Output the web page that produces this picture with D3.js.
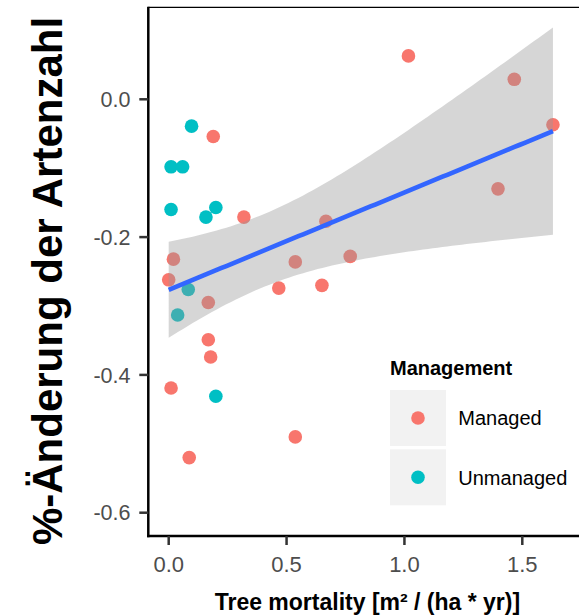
<!DOCTYPE html>
<html>
<head>
<meta charset="utf-8">
<script src="https://cdn.jsdelivr.net/npm/d3@7/dist/d3.min.js"></script>
<style>
  html, body { margin: 0; padding: 0; background: #fff; }
  svg { display: block; font-family: "Liberation Sans", Arial, sans-serif; }
</style>
</head>
<body>
<svg id="chart" width="579" height="615"></svg>
<script>
// ---- data ----
const managedX = [0.189, 0.319, 0.667, 0.020, 0.537, 0.770, 0.000, 0.467, 0.650, 0.168,
                  0.168, 0.178, 0.010, 0.537, 0.087, 1.017, 1.466, 1.630, 1.397];
const managedY = [-0.054, -0.171, -0.177, -0.232, -0.236, -0.228, -0.262, -0.274, -0.270, -0.295,
                  -0.349, -0.374, -0.419, -0.490, -0.520, 0.063, 0.029, -0.037, -0.130];
const unmanagedX = [0.097, 0.010, 0.059, 0.010, 0.158, 0.200, 0.083, 0.038, 0.200];
const unmanagedY = [-0.039, -0.098, -0.098, -0.160, -0.171, -0.157, -0.276, -0.313, -0.431];
const groups = ["Managed", "Unmanaged"];
const groupColors = ["#F8766D", "#00BFC4"];
const xTicks = [0, 0.5, 1.0, 1.5];
const xTickLabels = ["0.0", "0.5", "1.0", "1.5"];
const yTicks = [0, -0.2, -0.4, -0.6];
const yTickLabels = ["0.0", "-0.2", "-0.4", "-0.6"];
const xTitle = "Tree mortality [m\u00B2 / (ha * yr)]";
const yTitle = "%-\u00C4nderung der Artenzahl";
const legendTitle = "Management";
const tCrit = 2.0555; // t quantile 0.975, df = 26

// ---- layout ----
const svg = d3.select("#chart");
const panel = { left: 148.3, top: 7.3, right: 579, bottom: 536 };
const x = d3.scaleLinear().domain([0, 1.5]).range([168.7, 522.3]);
const y = d3.scaleLinear().domain([0, -0.6]).range([99.3, 512.7]);

const points = [];
managedX.forEach((v, i) => points.push({ x: v, y: managedY[i], g: 0 }));
unmanagedX.forEach((v, i) => points.push({ x: v, y: unmanagedY[i], g: 1 }));

// points
svg.append("g").selectAll("circle").data(points).join("circle")
  .attr("cx", d => x(d.x)).attr("cy", d => y(d.y)).attr("r", 6.8)
  .attr("fill", d => groupColors[d.g]);

// linear model with 95% CI
const n = points.length;
const xm = d3.mean(points, d => d.x), ym = d3.mean(points, d => d.y);
const sxx = d3.sum(points, d => (d.x - xm) ** 2);
const sxy = d3.sum(points, d => (d.x - xm) * (d.y - ym));
const b = sxy / sxx, a = ym - b * xm;
const s = Math.sqrt(d3.sum(points, d => (d.y - (a + b * d.x)) ** 2) / (n - 2));
const [x0, x1] = d3.extent(points, d => d.x);
const fit = d3.range(81).map(i => {
  const xv = x0 + (x1 - x0) * i / 80;
  const yv = a + b * xv;
  const se = s * Math.sqrt(1 / n + (xv - xm) ** 2 / sxx);
  return { x: xv, y: yv, lo: yv - tCrit * se, hi: yv + tCrit * se };
});
svg.append("path").datum(fit)
  .attr("d", d3.area().x(d => x(d.x)).y0(d => y(d.lo)).y1(d => y(d.hi)))
  .attr("fill", "#999999").attr("fill-opacity", 0.4);
svg.append("path").datum(fit)
  .attr("d", d3.line().x(d => x(d.x)).y(d => y(d.y)))
  .attr("fill", "none").attr("stroke", "#3366FF").attr("stroke-width", 4.6);

// axes lines
svg.append("line").attr("x1", panel.left).attr("x2", panel.right)
  .attr("y1", panel.top).attr("y2", panel.top).attr("stroke", "#000").attr("stroke-width", 1.2);
svg.append("line").attr("x1", panel.left).attr("x2", panel.left)
  .attr("y1", panel.top - 0.6).attr("y2", panel.bottom + 1.2).attr("stroke", "#000").attr("stroke-width", 2.5);
svg.append("line").attr("x1", panel.left - 1.2).attr("x2", panel.right)
  .attr("y1", panel.bottom).attr("y2", panel.bottom).attr("stroke", "#000").attr("stroke-width", 2.5);

// ticks
const yAxis = svg.append("g");
yAxis.selectAll("line").data(yTicks).join("line")
  .attr("x1", panel.left - 9).attr("x2", panel.left)
  .attr("y1", d => y(d)).attr("y2", d => y(d))
  .attr("stroke", "#333333").attr("stroke-width", 2.5);
yAxis.selectAll("text").data(yTicks).join("text")
  .attr("x", 130.5).attr("y", d => y(d)).attr("dy", "0.36em")
  .attr("text-anchor", "end").attr("font-size", 21.5).attr("fill", "#4d4d4d")
  .text((d, i) => yTickLabels[i]);

const xAxis = svg.append("g");
xAxis.selectAll("line").data(xTicks).join("line")
  .attr("x1", d => x(d)).attr("x2", d => x(d))
  .attr("y1", panel.bottom).attr("y2", panel.bottom + 9)
  .attr("stroke", "#333333").attr("stroke-width", 2.5);
xAxis.selectAll("text").data(xTicks).join("text")
  .attr("x", d => x(d)).attr("y", 572)
  .attr("text-anchor", "middle").attr("font-size", 22).attr("fill", "#4d4d4d")
  .text((d, i) => xTickLabels[i]);

// titles
svg.append("text").attr("x", 367.4).attr("y", 610)
  .attr("text-anchor", "middle").attr("font-size", 23).attr("font-weight", "bold")
  .attr("fill", "#000").text(xTitle);
svg.append("text").attr("transform", "translate(62,281) rotate(-90)")
  .attr("text-anchor", "middle").attr("font-size", 42).attr("font-weight", "bold")
  .attr("fill", "#000").text(yTitle);

// legend
const lg = svg.append("g");
lg.append("text").attr("x", 390).attr("y", 375).attr("font-size", 20)
  .attr("font-weight", "bold").attr("fill", "#000").text(legendTitle);
const keyTop = [390, 449.3];
groups.forEach((g, i) => {
  lg.append("rect").attr("x", 390).attr("y", keyTop[i]).attr("width", 56).attr("height", 56)
    .attr("fill", "#f2f2f2");
  lg.append("circle").attr("cx", 418).attr("cy", keyTop[i] + 28).attr("r", 6.8)
    .attr("fill", groupColors[i]);
  lg.append("text").attr("x", 458.3).attr("y", keyTop[i] + 28).attr("dy", "0.36em")
    .attr("font-size", 20).attr("fill", "#000").text(g);
});
</script>
</body>
</html>
